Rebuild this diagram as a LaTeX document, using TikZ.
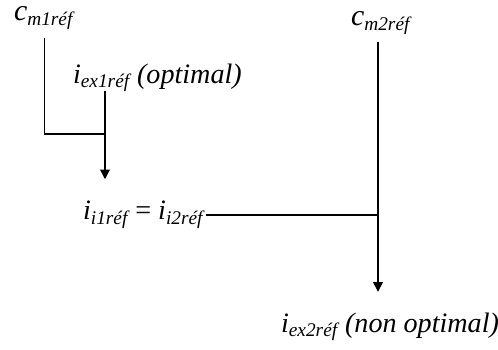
\documentclass[tikz,border=0pt]{standalone}
\usepackage{fontspec}
\setmainfont{Liberation Serif}
\usepackage{tikz}
\usetikzlibrary{arrows.meta,calc}
\tikzset{
  lbl/.style ={inner sep=1pt, anchor=west, font=\fontsize{16}{18}\selectfont\itshape},
  wire/.style={line width=0.8pt},
  arr/.style ={wire, -{Triangle[length=5.5pt,width=5.5pt]}},
}
\newcommand{\idx}[2]{#1\textsubscript{\fontsize{11}{12}\selectfont #2}}

\begin{document}
\begin{tikzpicture}[x=0.02cm, y=-0.02cm]
  \useasboundingbox (0,0) rectangle (498,350);
  \node[lbl] (cm1)  at (12,18)  {\idx{\fontsize{17}{18}\selectfont c}{m1réf}};
  \node[lbl] (iex1) at (71,78)  {\idx{i}{ex1réf} (optimal)};
  \node[lbl] (ii)   at (81,215) {\idx{i}{i1réf} \upshape= \itshape\idx{i}{i2réf}};
  \node[lbl] (cm2)  at (349,23) {\idx{\fontsize{17}{18}\selectfont c}{m2réf}};
  \node[lbl] (iex2) at (279,327) {\idx{i}{ex2réf} (non optimal)};
  \coordinate (j1) at (105,134);
  \coordinate (j2) at (378,215);
  % left branch
  \draw[wire] ($(cm1.south)+(1,7)$) |- (j1);
  \draw[arr] ($(iex1.south -| j1)+(0,-3)$) -- (j1) -- ($(ii.north -| j1)+(0,-20)$);
  % right branch
  \draw[wire] (ii.east) -- (ii.east -| j2);
  \draw[arr] ($(cm2.south -| j2)+(0,6)$) -- (j2) -- ($(iex2.north -| j2)+(0,-19)$);
\end{tikzpicture}
\end{document}
